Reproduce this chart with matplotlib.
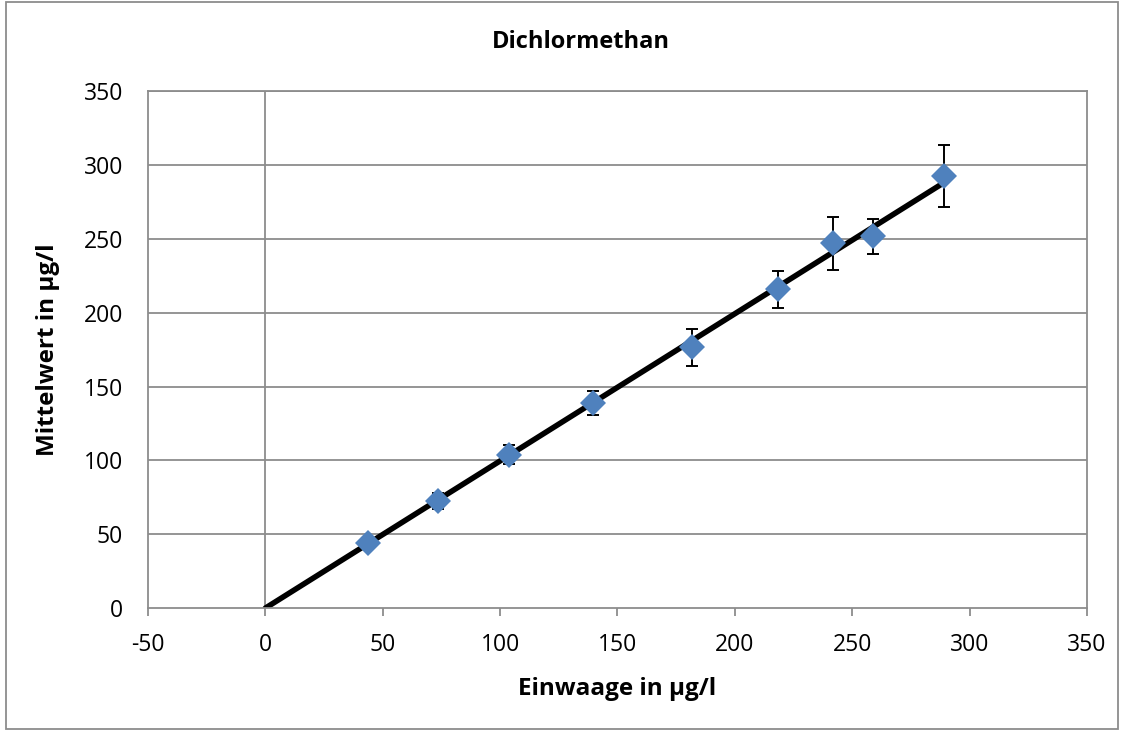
import numpy as np
import matplotlib.pyplot as plt
from matplotlib.patches import Rectangle

plt.rcParams['font.family'] = ['Open Sans', 'DejaVu Sans']
plt.rcParams['axes.unicode_minus'] = False

# Einwaage (x), Mittelwert (y) und Standardabweichung
einwaage = [43.7, 73.5, 103.7, 139.6, 181.6, 218.3, 242.0, 258.7, 289.0]
mittelwert = [44.0, 72.5, 104.0, 139.0, 176.5, 216.0, 247.0, 251.8, 292.5]
stdabw = [2.0, 5.6, 6.5, 8.0, 12.8, 12.6, 18.0, 11.8, 21.0]

x_ticks = [-50, 0, 50, 100, 150, 200, 250, 300, 350]
y_ticks = [0, 50, 100, 150, 200, 250, 300, 350]

x = np.array(einwaage)
y = np.array(mittelwert)
# lineare Regression durch den Ursprung
slope = np.sum(x * y) / np.sum(x * x)

fig = plt.figure(figsize=(11.24, 7.30), dpi=100)
ax = fig.add_axes([0.1317, 0.167, 0.8353, 0.708])

grid_col = '#8c8c8c'
for yt in y_ticks[1:]:
    ax.axhline(yt, color=grid_col, lw=1.3, zorder=0)
ax.axvline(0, color=grid_col, lw=1.3, zorder=0)

xl = np.array([0, x.max()])
ax.plot(xl, slope * xl, color='black', lw=4.0, solid_capstyle='round', zorder=2)

ax.errorbar(einwaage, mittelwert, yerr=stdabw, fmt='none', ecolor='black',
            elinewidth=1.4, capsize=4.5, capthick=1.4, zorder=3)
ax.plot(einwaage, mittelwert, 'D', color='#4f81bd', markersize=13.5,
        markeredgewidth=0, zorder=4)

ax.set_xlim(-50, 350)
ax.set_ylim(0, 350)
ax.set_xticks(x_ticks)
ax.set_yticks(y_ticks)
ax.tick_params(axis='x', length=6, width=1.3, color=grid_col, labelsize=16.5, pad=12)
ax.tick_params(axis='y', length=0, labelsize=16.5, pad=18)
for s in ax.spines.values():
    s.set_color(grid_col)
    s.set_linewidth(1.3)

fig.text(0.517, 0.942, 'Dichlormethan', fontsize=17, fontweight='bold',
         ha='center', va='center')
ax.set_xlabel('Einwaage in µg/l', fontsize=17.5, fontweight='bold', labelpad=14)
ax.set_ylabel('Mittelwert in µg/l', fontsize=17.5, fontweight='bold', labelpad=17)

fig.patches.append(Rectangle((0.005, 0.002), 0.99, 0.995, transform=fig.transFigure,
                             fill=False, edgecolor=grid_col, lw=1.3))

plt.savefig('out.png', dpi=100)
